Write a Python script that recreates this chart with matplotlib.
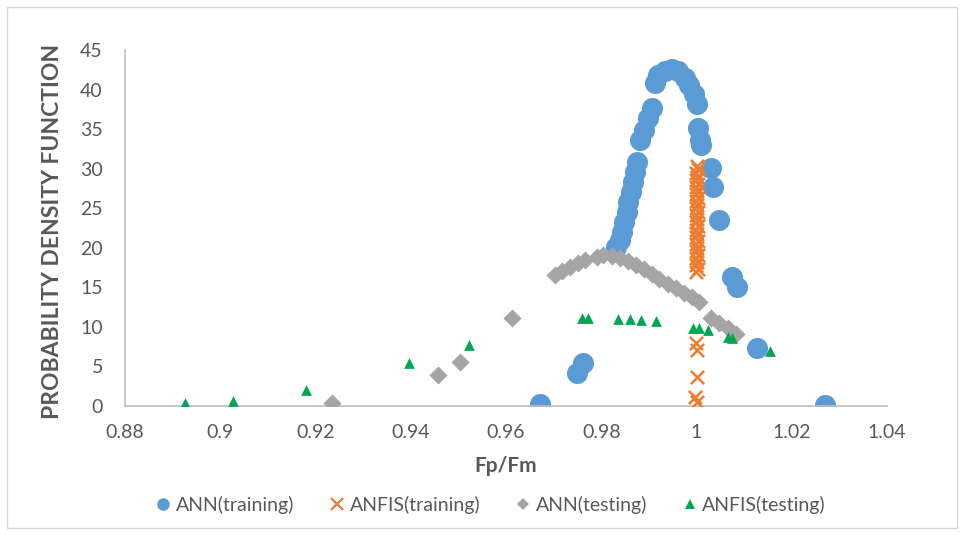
import matplotlib
import matplotlib.pyplot as plt
from matplotlib.lines import Line2D
from matplotlib.patches import Rectangle

matplotlib.rcParams['font.family'] = ['Lato', 'DejaVu Sans']

# ANN(training) - blue circles
ann_train_x = [0.9671, 0.9748, 0.9761, 0.9830, 0.9839, 0.9843, 0.9847, 0.9853, 0.9855,
               0.9862, 0.9866, 0.9870, 0.9874, 0.9881, 0.9889, 0.9897, 0.9906, 0.9912,
               0.9920, 0.9933, 0.9948, 0.9962, 0.9975, 0.9985, 0.9994, 1.0000, 1.0002,
               1.0008, 1.0010, 1.0031, 1.0034, 1.0048, 1.0075, 1.0084, 1.0126, 1.0270]
ann_train_y = [0.25, 4.2, 5.4, 20.1, 21.0, 22.0, 23.3, 24.5, 25.8,
               27.1, 28.3, 29.6, 30.8, 33.6, 34.9, 36.4, 37.7, 40.8,
               41.8, 42.4, 42.6, 42.3, 41.5, 40.6, 39.4, 38.2, 35.1,
               33.6, 33.0, 30.1, 27.7, 23.5, 16.3, 15.0, 7.3, 0.1]

# ANFIS(training) - orange crosses
anfis_train_x = [0.9998, 1.0002, 0.9999, 1.0001, 0.9998, 1.0002, 0.9999, 1.0001, 0.9998,
                 1.0002, 0.9999, 1.0001, 0.9998, 1.0002, 0.9999, 1.0001, 0.9998, 1.0002,
                 0.9999, 1.0001, 0.9998, 1.0002, 0.9999, 1.0001, 0.9998, 1.0002, 0.9999,
                 1.0001, 0.9998, 1.0002, 1.0000, 0.9999, 1.0000, 1.0000, 0.9997, 1.0001]
anfis_train_y = [16.9, 17.3, 17.8, 18.2, 18.7, 19.1, 19.6, 20.0, 20.5,
                 20.9, 21.4, 21.8, 22.3, 22.7, 23.2, 23.6, 24.1, 24.5,
                 25.0, 25.4, 25.9, 26.3, 26.8, 27.2, 27.7, 28.1, 28.6,
                 29.0, 29.5, 29.9, 30.4, 8.0, 7.1, 3.7, 1.1, 0.5]

# ANN(testing) - grey diamonds
ann_test_x = [0.9235, 0.9457, 0.9503, 0.9612, 0.9702, 0.9717, 0.9734, 0.9751, 0.9765,
              0.9790, 0.9803, 0.9822, 0.9839, 0.9855, 0.9872, 0.9889, 0.9906, 0.9922,
              0.9939, 0.9956, 0.9973, 0.9990, 1.0006, 1.0031, 1.0048, 1.0065, 1.0082]
ann_test_y = [0.4, 3.9, 5.6, 11.1, 16.6, 17.1, 17.6, 18.1, 18.5,
              18.8, 19.1, 19.0, 18.7, 18.3, 17.8, 17.3, 16.7, 16.1,
              15.4, 14.9, 14.3, 13.8, 13.1, 11.1, 10.5, 9.9, 9.1]

# ANFIS(testing) - green triangles
anfis_test_x = [0.8925, 0.9027, 0.9180, 0.9396, 0.9522, 0.9759, 0.9772, 0.9834, 0.9860,
                0.9883, 0.9914, 0.9992, 1.0006, 1.0023, 1.0065, 1.0075, 1.0155]
anfis_test_y = [0.4, 0.6, 2.0, 5.4, 7.7, 11.1, 11.1, 11.0, 11.0,
                10.9, 10.8, 9.9, 9.8, 9.6, 8.7, 8.6, 7.0]

x_ticks = [0.88, 0.9, 0.92, 0.94, 0.96, 0.98, 1, 1.02, 1.04]
x_tick_labels = ['0.88', '0.9', '0.92', '0.94', '0.96', '0.98', '1', '1.02', '1.04']
y_ticks = [0, 5, 10, 15, 20, 25, 30, 35, 40, 45]

blue = '#5b9bd5'
orange = '#ed7d31'
grey = '#a5a5a5'
green = '#00a651'
text_col = '#595959'

fig = plt.figure(figsize=(9.64, 5.35), dpi=100)
ax = fig.add_axes([0.1297, 0.2411, 0.7905, 0.6654])

ax.scatter(ann_train_x, ann_train_y, s=230, color=blue, linewidths=0, zorder=2)
ax.scatter(anfis_train_x, anfis_train_y, s=90, marker='x', color=orange, linewidths=1.8, zorder=3)
ax.scatter(ann_test_x, ann_test_y, s=85, marker='D', color=grey, linewidths=0, zorder=4)
ax.scatter(anfis_test_x, anfis_test_y, s=60, marker='^', color=green, linewidths=0, zorder=5)

ax.set_xlim(0.88, 1.04)
ax.set_ylim(0, 45)
ax.set_xticks(x_ticks)
ax.set_xticklabels(x_tick_labels)
ax.set_yticks(y_ticks)
ax.tick_params(axis='both', length=0, labelsize=14, labelcolor=text_col)
ax.tick_params(axis='x', pad=13)
ax.tick_params(axis='y', pad=16)

for side in ['top', 'right']:
    ax.spines[side].set_visible(False)
for side in ['left', 'bottom']:
    ax.spines[side].set_color('#bfbfbf')
    ax.spines[side].set_linewidth(1.2)

ax.set_xlabel('Fp/Fm', fontsize=15, fontweight='bold', color=text_col)
ax.xaxis.set_label_coords(0.5, -0.14)
ax.set_ylabel('PROBABILITY DENSITY FUNCTION', fontsize=16.5, fontweight='bold', color=text_col)
ax.yaxis.set_label_coords(-0.082, 0.49)

handles = [
    Line2D([], [], linestyle='none', marker='o', markersize=9, color=blue, markeredgewidth=0),
    Line2D([], [], linestyle='none', marker='x', markersize=8, color=orange, markeredgewidth=1.6),
    Line2D([], [], linestyle='none', marker='D', markersize=6, color=grey, markeredgewidth=0),
    Line2D([], [], linestyle='none', marker='^', markersize=7, color=green, markeredgewidth=0),
]
labels = ['ANN(training)', 'ANFIS(training)', 'ANN(testing)', 'ANFIS(testing)']
leg = fig.legend(handles, labels, loc='center', bbox_to_anchor=(0.51, 0.057), ncol=4,
                 frameon=False, fontsize=14, handlelength=0.6, handletextpad=0.35,
                 columnspacing=1.9)
for t in leg.get_texts():
    t.set_color(text_col)

# thin chart border like the original
fig.patches.append(Rectangle((0.007, 0.013), 0.986, 0.974, transform=fig.transFigure,
                             fill=False, edgecolor='#d9d9d9', linewidth=1))

fig.savefig('out.png', dpi=100)
